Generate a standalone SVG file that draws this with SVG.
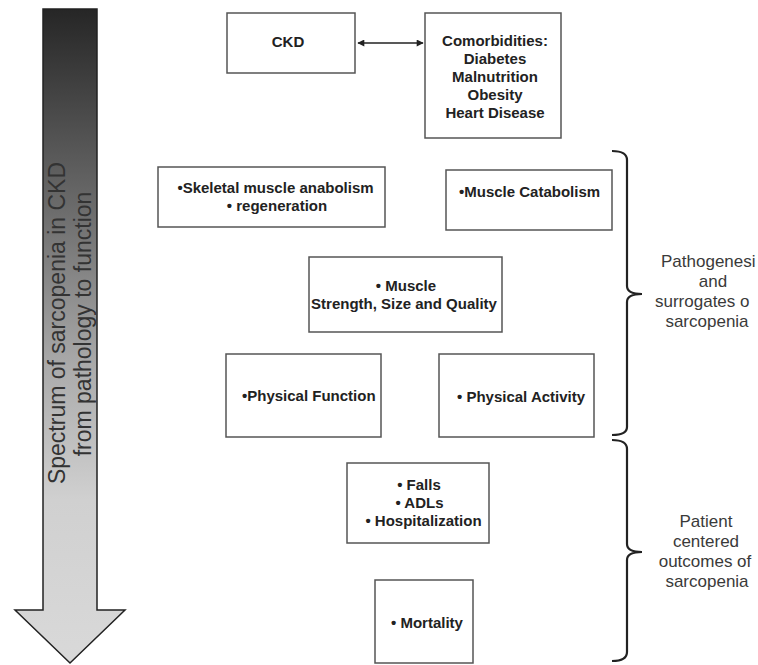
<svg xmlns="http://www.w3.org/2000/svg" width="758" height="665" viewBox="0 0 758 665">
<defs>
<linearGradient id="shaft" gradientUnits="userSpaceOnUse" x1="0" y1="9" x2="0" y2="663">
<stop offset="0" stop-color="#262626"/>
<stop offset="0.3" stop-color="#6a6a6a"/>
<stop offset="0.55" stop-color="#ababab"/>
<stop offset="0.75" stop-color="#d0d0d0"/>
<stop offset="1" stop-color="#d9d9d9"/>
</linearGradient>
<marker id="ah" viewBox="0 0 10 10" refX="9" refY="5" markerWidth="8" markerHeight="7" markerUnits="userSpaceOnUse" orient="auto-start-reverse">
<path d="M0,0 L10,5 L0,10 Z" fill="#222"/>
</marker>
<style>
.box{fill:#fff;stroke:#555;stroke-width:1.5}
.t{font-family:"Liberation Sans",Arial,sans-serif;font-weight:bold;font-size:15px;fill:#222}
.m{text-anchor:middle}
.side{font-family:"Liberation Sans",Arial,sans-serif;font-size:17px;fill:#3a3a3a}
.brace{fill:none;stroke:#222;stroke-width:2.2}
.spec{font-family:"Liberation Sans",Arial,sans-serif;font-size:23px;fill:#333;text-anchor:middle}
</style>
</defs>
<rect width="758" height="665" fill="#fff"/>

<g id="spectrum-arrow">
<path d="M43,9 L97,9 L97,610 L125,610 L70,663 L15,610 L43,610 Z" fill="url(#shaft)" stroke="#222" stroke-width="1.5" stroke-linejoin="miter"/>
<text class="spec" transform="translate(65,323) rotate(-90)">Spectrum of sarcopenia in CKD</text>
<text class="spec" transform="translate(91,324) rotate(-90)">from pathology to function</text>
</g>

<g id="ckd">
<rect class="box" x="227" y="13" width="128" height="60"/>
<text class="t m" x="288" y="47">CKD</text>
</g>

<g id="comorbidities">
<rect class="box" x="425" y="13" width="136" height="125"/>
<text class="t m" x="495" y="45.5">Comorbidities:</text>
<text class="t m" x="495" y="63.5">Diabetes</text>
<text class="t m" x="495" y="81.5">Malnutrition</text>
<text class="t m" x="495" y="99.5">Obesity</text>
<text class="t m" x="495" y="117.5">Heart Disease</text>
</g>

<g id="anabolism">
<rect class="box" x="158" y="167" width="227" height="60"/>
<text class="t m" x="275.5" y="193">•Skeletal muscle anabolism</text>
<text class="t m" x="277" y="211">• regeneration</text>
</g>

<g id="catabolism">
<rect class="box" x="446" y="170" width="166" height="60"/>
<text class="t" x="459" y="197">•Muscle Catabolism</text>
</g>

<g id="strength">
<rect class="box" x="309" y="257" width="193" height="75"/>
<text class="t m" x="406" y="291">• Muscle</text>
<text class="t m" x="404" y="309">Strength, Size and Quality</text>
</g>

<g id="physical-function">
<rect class="box" x="226" y="354" width="155" height="83"/>
<text class="t" x="242" y="401">•Physical Function</text>
</g>

<g id="physical-activity">
<rect class="box" x="439" y="354" width="155" height="83"/>
<text class="t" x="457" y="402">• Physical Activity</text>
</g>

<g id="outcomes">
<rect class="box" x="347" y="463" width="142" height="80"/>
<text class="t m" x="419" y="490">• Falls</text>
<text class="t m" x="419.5" y="508">• ADLs</text>
<text class="t m" x="423.5" y="526">• Hospitalization</text>
</g>

<g id="mortality">
<rect class="box" x="375" y="580" width="98" height="83"/>
<text class="t" x="391" y="628">• Mortality</text>
</g>

<g id="connectors">
<line x1="358" y1="43" x2="423" y2="43" stroke="#222" stroke-width="1.5" marker-start="url(#ah)" marker-end="url(#ah)"/>
</g>

<g id="brace-pathogenesis">
<path class="brace" d="M612,151 Q627,151 627,160 L627,286 Q627,294 642,294 Q627,294 627,302 L627,427 Q627,435 612,435"/>
<text class="side" x="661" y="267">Pathogenesi</text>
<text class="side" x="713" y="287" text-anchor="middle">and</text>
<text class="side" x="655" y="307">surrogates o</text>
<text class="side" x="707" y="327" text-anchor="middle">sarcopenia</text>
</g>

<g id="brace-outcomes">
<path class="brace" d="M612,440 Q627,440 627,449 L627,544 Q627,552 642,552 Q627,552 627,560 L627,652 Q627,661 612,661"/>
<text class="side" x="706" y="527" text-anchor="middle">Patient</text>
<text class="side" x="706" y="547" text-anchor="middle">centered</text>
<text class="side" x="705" y="567" text-anchor="middle">outcomes of</text>
<text class="side" x="707" y="587" text-anchor="middle">sarcopenia</text>
</g>
</svg>
